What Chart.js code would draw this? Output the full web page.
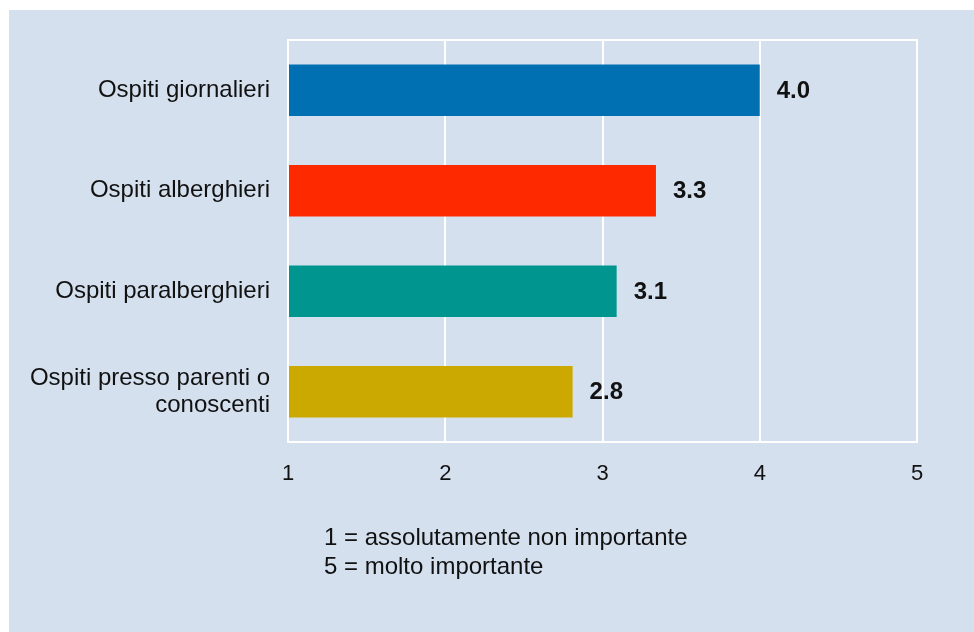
<!DOCTYPE html>
<html>
<head>
<meta charset="utf-8">
<script src="https://cdn.jsdelivr.net/npm/chart.js@4/dist/chart.umd.min.js"></script>
<style>
	html, body { margin: 0; padding: 0; background: #fff; }
	#panel {
		position: absolute; left: 9px; top: 10px; width: 965px; height: 622px;
		background: #d5e0ee;
	}
	#chart { position: absolute; left: 0; top: 0; }
	#note {
		position: absolute; left: 324px; top: 522px;
		font: 24px "Liberation Sans", Arial, sans-serif; line-height: 29px; color: #111;
	}
</style>
</head>
<body>
<div id="panel"></div>
<canvas id="chart" width="974" height="632"></canvas>
<div id="note">1 = assolutamente non importante<br>5 = molto importante</div>
<script>
/* data */
const categories = [
	'Ospiti giornalieri',
	'Ospiti alberghieri',
	'Ospiti paralberghieri',
	['Ospiti presso parenti o', 'conoscenti'],
];
const scores = [4.0, 3.34, 3.09, 2.81];
const barColors = ['#0070b3', '#ff2900', '#00958f', '#cca900'];
const scaleTicks = [1, 2, 3, 4, 5];

const FONT = '"Liberation Sans", Arial, sans-serif';

/* white frame round the plot area */
const frame = {
	id: 'frame',
	afterDraw(chart) {
		const { ctx, chartArea: a } = chart;
		ctx.save();
		ctx.strokeStyle = '#fff';
		ctx.lineWidth = 2;
		ctx.strokeRect(a.left, a.top, a.right - a.left, a.bottom - a.top);
		ctx.restore();
	},
};

/* value printed after every bar */
const valueLabels = {
	id: 'valueLabels',
	afterDatasetsDraw(chart) {
		const { ctx } = chart;
		const meta = chart.getDatasetMeta(0);
		ctx.save();
		ctx.font = `bold 24px ${FONT}`;
		ctx.fillStyle = '#111';
		ctx.textBaseline = 'middle';
		meta.data.forEach((bar, i) => {
			ctx.fillText(scores[i].toFixed(1), bar.x + 17, bar.y + 1);
		});
		ctx.restore();
	},
};

new Chart(document.getElementById('chart'), {
	type: 'bar',
	data: {
		labels: categories,
		datasets: [{
			data: scores,
			backgroundColor: barColors,
			borderWidth: 0,
			barPercentage: 0.51,
			categoryPercentage: 1,
		}],
	},
	options: {
		indexAxis: 'y',
		responsive: false,
		animation: false,
		devicePixelRatio: 1,
		layout: { padding: { top: 40, right: 57, left: 0, bottom: 0 } },
		plugins: {
			legend: { display: false },
			tooltip: { enabled: false },
		},
		scales: {
			x: {
				min: 1,
				max: 5,
				afterBuildTicks: (scale) => {
					scale.ticks = scaleTicks.map(v => ({ value: v }));
				},
				afterFit: (scale) => { scale.height = 190; },
				grid: { color: '#fff', lineWidth: 2, drawTicks: false },
				border: { color: '#fff', width: 2 },
				ticks: {
					padding: 19,
					color: '#111',
					font: { family: FONT, size: 22 },
				},
			},
			y: {
				afterFit: (scale) => {
					scale.width = 288;
					scale.paddingTop = 0;
					scale.paddingBottom = 0;
				},
				grid: { display: false, drawTicks: false },
				border: { color: '#fff', width: 2 },
				ticks: {
					padding: 18,
					color: '#111',
					font: { family: FONT, size: 24, lineHeight: 1.15 },
				},
			},
		},
	},
	plugins: [frame, valueLabels],
});
</script>
</body>
</html>
